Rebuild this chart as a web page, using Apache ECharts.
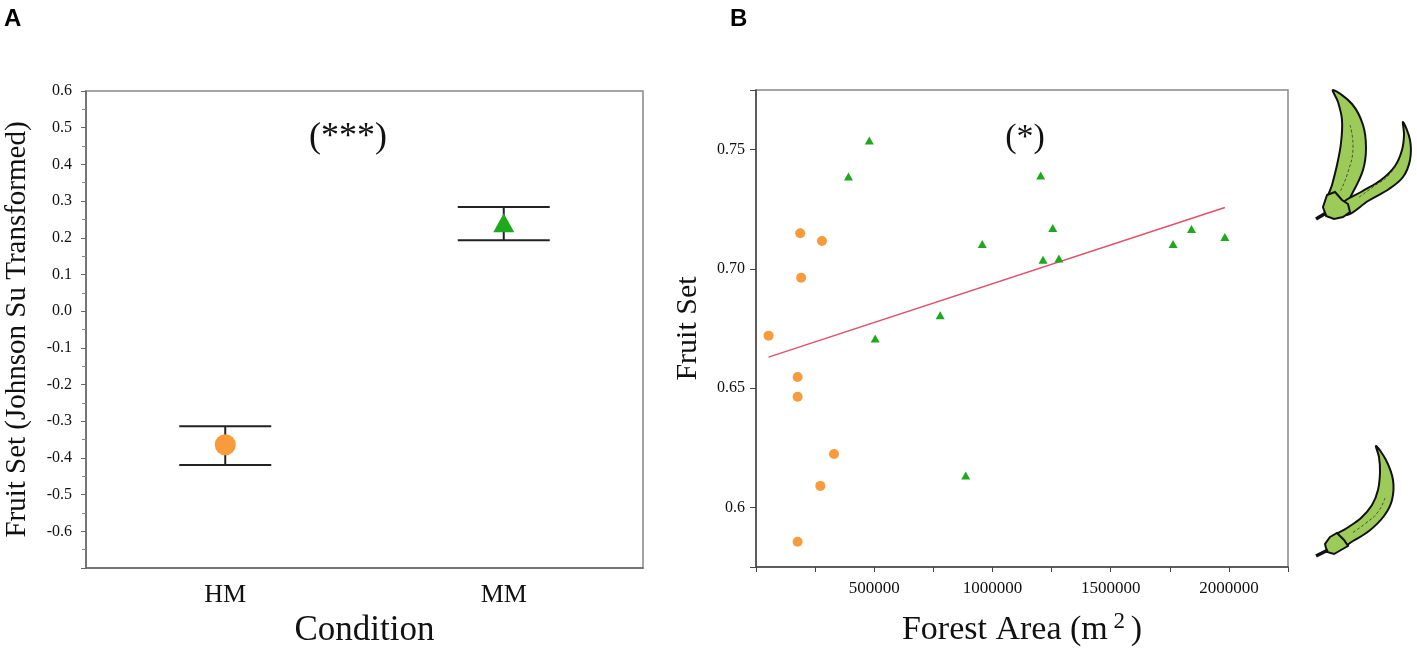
<!DOCTYPE html>
<html>
<head>
<meta charset="utf-8">
<script src="https://cdn.jsdelivr.net/npm/echarts@6/dist/echarts.min.js"></script>
<style>
html, body { margin: 0; padding: 0; background: #fff; }
#chart { width: 1417px; height: 655px; }
</style>
</head>
<body>
<div id="chart"></div>
<script>
// Panel A - transformed fruit set per condition
const conditions = ['HM', 'MM'];
const conditionMeans = [-0.364, 0.241];
const conditionLow = [-0.419, 0.193];
const conditionHigh = [-0.314, 0.284];

// Panel B - fruit set against forest area
const hmArea = [53000, 176000, 176000, 330000, 272000, 176000, 187000, 279000, 191000];
const hmFruitSet = [0.672, 0.6547, 0.6464, 0.6224, 0.609, 0.5856, 0.7149, 0.7117, 0.6963];
const mmArea = [479000, 391000, 1204000, 1255000, 957000, 1214000, 1281000, 779000, 504000, 887000, 1842000, 1764000, 1983000];
const mmFruitSet = [0.7538, 0.7387, 0.7392, 0.7171, 0.7104, 0.7038, 0.7044, 0.6806, 0.6708, 0.6134, 0.7167, 0.7104, 0.7134];
const fitArea = [53000, 1983000];
const fitFruitSet = [0.663, 0.7257];

const ORANGE = '#F89B3C';
const GREEN = '#1EA81E';
const POD = '#9DCB5A';
const SERIF = 'Liberation Serif';

const chart = echarts.init(document.getElementById('chart'));

function renderErrorBar(params, api) {
    const idx = api.value(0);
    const lo = api.coord([idx, api.value(1)]);
    const hi = api.coord([idx, api.value(2)]);
    const half = 46;
    const style = { stroke: '#222', lineWidth: 2 };
    return {
        type: 'group',
        children: [
            { type: 'line', shape: { x1: lo[0], y1: lo[1], x2: hi[0], y2: hi[1] }, style: style },
            { type: 'line', shape: { x1: lo[0] - half, y1: lo[1], x2: lo[0] + half, y2: lo[1] }, style: style },
            { type: 'line', shape: { x1: hi[0] - half, y1: hi[1], x2: hi[0] + half, y2: hi[1] }, style: style }
        ]
    };
}

// okra drawings on the right side
function pod(points) {
    return { type: 'polygon', shape: { points: points, smooth: 0.35 }, style: { fill: POD, stroke: '#111', lineWidth: 2 }, z: 10 };
}
function streak(points) {
    return { type: 'polyline', shape: { points: points, smooth: 0.5 }, style: { fill: null, stroke: '#333', lineWidth: 0.8, lineDash: [3, 2] }, z: 11 };
}
function calyx(points) {
    return { type: 'polygon', shape: { points: points }, style: { fill: POD, stroke: '#111', lineWidth: 2 }, z: 12 };
}
function stem(x1, y1, x2, y2) {
    return { type: 'line', shape: { x1: x1, y1: y1, x2: x2, y2: y2 }, style: { stroke: '#111', lineWidth: 3.5 }, z: 12 };
}

const okra = [
    pod([[1333, 90], [1352, 104], [1363, 125], [1366, 148], [1363, 170], [1353, 192], [1341, 210], [1327, 203],
         [1332, 185], [1337, 165], [1341, 143], [1342, 120], [1338, 102]]),
    streak([[1350, 125], [1353, 148], [1348, 172], [1340, 192]]),
    pod([[1403, 122], [1410, 140], [1410, 160], [1403, 177], [1389, 189], [1368, 201], [1347, 215], [1342, 204],
         [1361, 192], [1381, 180], [1395, 166], [1402, 150], [1404, 135]]),
    streak([[1398, 162], [1388, 176], [1373, 187], [1358, 198]]),
    calyx([[1327, 195], [1335, 192], [1342, 200], [1348, 204], [1350, 212], [1343, 217], [1334, 219], [1326, 216], [1323, 207]]),
    stem(1326, 213, 1316, 219),
    pod([[1376, 446], [1386, 460], [1393, 480], [1392, 500], [1384, 516], [1369, 531], [1353, 541], [1339, 549], [1331, 539],
         [1347, 528], [1361, 518], [1372, 505], [1378, 490], [1380, 472], [1379, 457]]),
    streak([[1385, 498], [1378, 512], [1366, 523], [1352, 533]]),
    calyx([[1330, 537], [1337, 533], [1344, 540], [1348, 546], [1341, 550], [1334, 554], [1327, 552], [1325, 544]]),
    stem(1328, 550, 1316, 556)
];

const option = {
    backgroundColor: '#fff',
    animation: false,
    textStyle: { fontFamily: SERIF, color: '#111' },
    grid: [
        { left: 86, top: 91, width: 557, height: 477, show: true, borderColor: '#888', borderWidth: 1.5, backgroundColor: 'transparent' },
        { left: 756, top: 90, width: 532, height: 477, show: true, borderColor: '#888', borderWidth: 1.5, backgroundColor: 'transparent' }
    ],
    xAxis: [
        {
            gridIndex: 0,
            type: 'category',
            data: conditions,
            boundaryGap: true,
            name: 'Condition',
            nameLocation: 'middle',
            nameGap: 62,
            nameTextStyle: { fontFamily: SERIF, fontSize: 35, color: '#111', verticalAlign: 'middle' },
            axisLine: { onZero: false, lineStyle: { color: '#666', width: 1.5 } },
            axisTick: { show: false },
            axisLabel: { fontFamily: SERIF, fontSize: 26, color: '#111', margin: 27, verticalAlign: 'middle' },
            splitLine: { show: false }
        },
        {
            gridIndex: 1,
            type: 'value',
            min: 0,
            max: 2250000,
            interval: 250000,
            name: 'Forest Area (m{sup| 2 })',
            nameLocation: 'middle',
            nameGap: 63,
            nameTextStyle: {
                fontFamily: SERIF, fontSize: 34, color: '#111', verticalAlign: 'middle', lineHeight: 40,
                rich: { sup: { fontFamily: SERIF, fontSize: 23, color: '#111', verticalAlign: 'top', lineHeight: 40 } }
            },
            axisLine: { onZero: false, lineStyle: { color: '#444', width: 1.5 } },
            axisTick: { show: true, length: 5, lineStyle: { color: '#444' } },
            axisLabel: {
                fontFamily: SERIF, fontSize: 17, color: '#111', margin: 22, verticalAlign: 'middle',
                formatter: function (v) { return (v > 0 && v % 500000 === 0) ? String(v) : ''; }
            },
            splitLine: { show: false }
        }
    ],
    yAxis: [
        {
            gridIndex: 0,
            type: 'value',
            min: -0.7,
            max: 0.6,
            interval: 0.1,
            name: 'Fruit Set (Johnson Su Transformed)',
            nameLocation: 'middle',
            nameGap: 69,
            nameTextStyle: { fontFamily: SERIF, fontSize: 29, color: '#111', verticalAlign: 'middle' },
            axisLine: { show: true, onZero: false, lineStyle: { color: '#666', width: 1.5 } },
            axisTick: { show: true, length: 5, lineStyle: { color: '#666' } },
            minorTick: { show: true, splitNumber: 2, length: 4, lineStyle: { color: '#888' } },
            axisLabel: {
                fontFamily: SERIF, fontSize: 16, color: '#111', margin: 14,
                formatter: function (v) { return v < -0.65 ? '' : (Math.abs(v) < 1e-9 ? '0.0' : v.toFixed(1)); }
            },
            splitLine: { show: false }
        },
        {
            gridIndex: 1,
            type: 'value',
            min: 0.575,
            max: 0.775,
            name: 'Fruit Set',
            nameLocation: 'middle',
            nameGap: 68,
            nameTextStyle: { fontFamily: SERIF, fontSize: 30, color: '#111', verticalAlign: 'middle' },
            axisLine: { show: true, onZero: false, lineStyle: { color: '#444', width: 1.5 } },
            axisTick: { show: true, length: 6, lineStyle: { color: '#444' } },
            axisLabel: {
                fontFamily: SERIF, fontSize: 16, color: '#111', margin: 11,
                formatter: function (v) {
                    const k = Math.round(v / 0.05);
                    if (Math.abs(v - k * 0.05) > 1e-6) return '';
                    return Math.abs(v - 0.6) < 1e-6 ? '0.6' : v.toFixed(2);
                }
            },
            splitLine: { show: false }
        }
    ],
    series: [
        {
            type: 'custom',
            xAxisIndex: 0,
            yAxisIndex: 0,
            renderItem: renderErrorBar,
            data: conditions.map((c, i) => [i, conditionLow[i], conditionHigh[i]]),
            z: 2
        },
        {
            type: 'scatter',
            xAxisIndex: 0,
            yAxisIndex: 0,
            data: conditions.map((c, i) => ({
                value: [i, conditionMeans[i]],
                symbol: i === 0 ? 'circle' : 'triangle',
                symbolSize: i === 0 ? 21 : [21, 19],
                itemStyle: { color: i === 0 ? ORANGE : GREEN, opacity: 1 }
            })),
            z: 3
        },
        {
            type: 'line',
            xAxisIndex: 1,
            yAxisIndex: 1,
            data: fitArea.map((a, i) => [a, fitFruitSet[i]]),
            symbol: 'none',
            lineStyle: { color: '#E0506A', width: 1.5 },
            z: 2
        },
        {
            type: 'scatter',
            xAxisIndex: 1,
            yAxisIndex: 1,
            data: hmArea.map((a, i) => [a, hmFruitSet[i]]),
            symbol: 'circle',
            symbolSize: 10,
            itemStyle: { color: ORANGE, opacity: 1 },
            z: 3
        },
        {
            type: 'scatter',
            xAxisIndex: 1,
            yAxisIndex: 1,
            data: mmArea.map((a, i) => [a, mmFruitSet[i]]),
            symbol: 'triangle',
            symbolSize: [9, 8],
            itemStyle: { color: GREEN, opacity: 1 },
            z: 3
        }
    ],
    graphic: [
        { type: 'text', x: 4, y: 7, style: { text: 'A', font: 'bold 24px "Liberation Sans"', fill: '#000' } },
        { type: 'text', x: 730, y: 7, style: { text: 'B', font: 'bold 24px "Liberation Sans"', fill: '#000' } },
        { type: 'text', x: 348, y: 138, style: { text: '(***)', font: '36px "Liberation Serif"', fill: '#111', align: 'center', verticalAlign: 'middle' } },
        { type: 'text', x: 1025, y: 138, style: { text: '(*)', font: '34px "Liberation Serif"', fill: '#111', align: 'center', verticalAlign: 'middle' } }
    ].concat(okra)
};

chart.setOption(option);
</script>
</body>
</html>
